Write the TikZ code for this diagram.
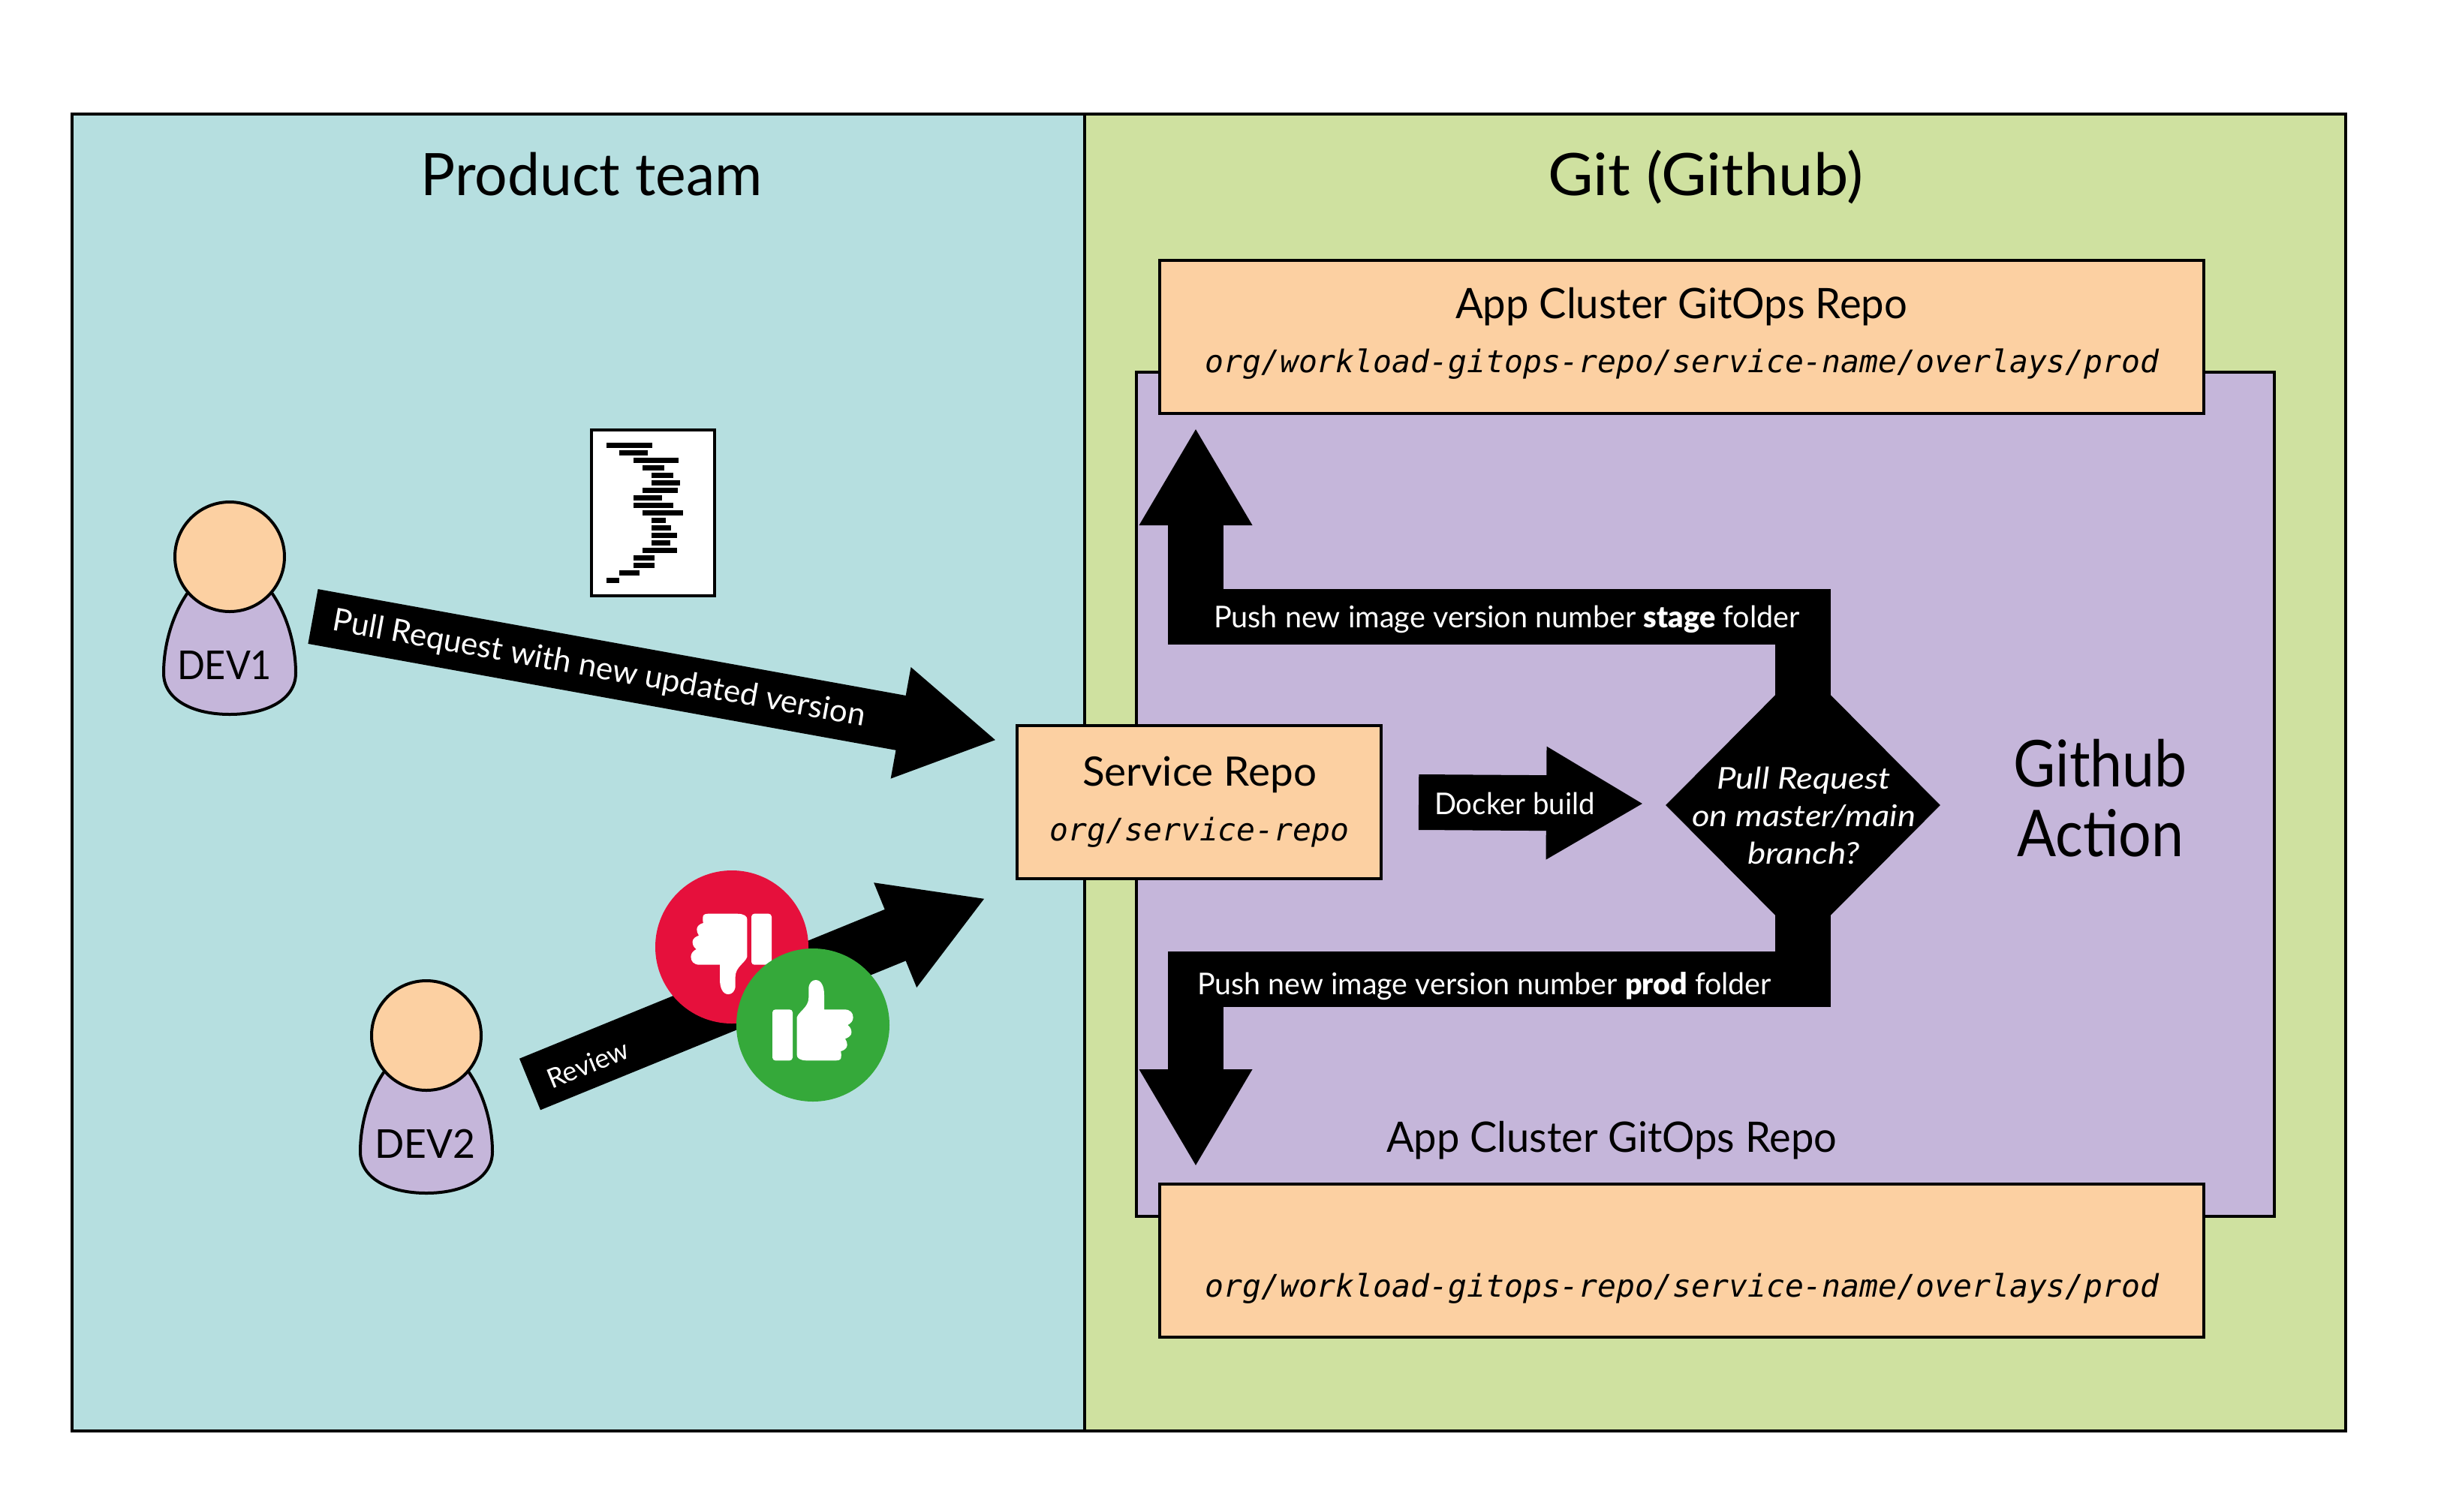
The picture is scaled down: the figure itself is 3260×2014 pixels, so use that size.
\documentclass[tikz,border=0pt]{standalone}
\usepackage{graphicx}
\usepackage{fontspec}
\setmainfont{Lato}
\setmonofont{DejaVu Sans Mono}
\newfontfamily\heavyfont{Lato Black}
\usetikzlibrary{arrows.meta,shapes.geometric}
\definecolor{panelblue}{HTML}{B6DFE0}
\definecolor{panelgreen}{HTML}{CFE1A0}
\definecolor{panelpurple}{HTML}{C5B6DA}
\definecolor{boxorange}{HTML}{FCD0A2}
\definecolor{votered}{HTML}{E6103C}
\definecolor{votegreen}{HTML}{35A93A}
% set text at a size (pt), then fit it horizontally to a width given in image pixels
\newcommand{\fit}[3]{\begingroup\fontsize{#2}{#2}\selectfont\setbox0=\hbox{#3}%
  \pgfmathsetmacro\fitr{(#1*0.5)/\wd0}\scalebox{\fitr}[1]{\box0}\endgroup}
\newcommand{\monotext}[1]{{\fontsize{20.7}{20.7}\selectfont\ttfamily\itshape #1}}
\newcommand{\thumbshape}{%
  \fill[white,rounded corners=2pt] (-54,-20.7) rectangle (-27,47.3);
  \fill[white] (-21.4,30) -- (-21.4,-10)
    .. controls (-18.9,-18.3) and (-5.7,-23.3) .. (-5.7,-36.7)
    -- (-5.7,-48.3)
    .. controls (-5.7,-56) and (-1,-60) .. (3.6,-60)
    .. controls (11,-60) and (15,-52) .. (15,-40)
    -- (15,-20.7) -- (41.8,-20.7)
    .. controls (50,-20.7) and (53.6,-16) .. (53.6,-10)
    .. controls (53.6,-5) and (50,-2) .. (46.4,0)
    .. controls (50,3) and (51.4,6) .. (51.4,10)
    .. controls (51.4,14) and (47,17) .. (42.9,18.3)
    .. controls (45,21) and (45.7,24) .. (45.7,26.7)
    .. controls (45.7,31) and (41,34) .. (37.1,35)
    .. controls (38,38) and (38,42) .. (37.1,45)
    .. controls (36,46.5) and (34,47.3) .. (31,47.3)
    -- (-8.2,47.3)
    .. controls (-17,47.3) and (-21.4,44) .. (-21.4,40) -- cycle;}
\newcommand{\personbody}{%
  \draw[line width=2pt,draw=black,fill=panelpurple] (-56,48)
    .. controls (-75,75) and (-88,115) .. (-88,155)
    .. controls (-88,190) and (-50,210) .. (0,210)
    .. controls (50,210) and (88,190) .. (88,155)
    .. controls (88,115) and (75,75) .. (56,48) -- cycle;}
\tikzset{
  panel/.style={draw=black,line width=2pt,inner sep=0pt},
  orangebox/.style={panel,fill=boxorange,minimum width=695.5pt,minimum height=102pt},
  blockarrow/.style={draw=black,line width=37pt,-{Triangle[length=65pt,width=70.5pt]}},
  lbl/.style={anchor=base,inner sep=0pt,outer sep=0pt,text=black},
  wlbl/.style={lbl,text=white},
  headnode/.style={circle,draw=black,fill=boxorange,line width=2pt,inner sep=0pt,minimum size=73pt},
  votecircle/.style={circle,inner sep=0pt,minimum size=102pt},
}
\begin{document}
\begin{tikzpicture}[x=0.5pt,y=-0.5pt]
\path[use as bounding box,fill=white] (0,0) rectangle (3260,2014);
% panels
\node[panel,fill=panelblue,minimum width=674.5pt,minimum height=877.5pt] (product) at (770.5,1029.5) {};
\node[panel,fill=panelgreen,minimum width=840pt,minimum height=877.5pt] (git) at (2285,1029.5) {};
\node[panel,fill=panelpurple,minimum width=758pt,minimum height=562.5pt] (action) at (2272,1058.5) {};
\node[orangebox] (toprepo) at (2240.5,449) {};
\node[orangebox] (bottomrepo) at (2240.5,1680) {};
\node[panel,fill=boxorange,minimum width=242.5pt,minimum height=102pt] (service) at (1597,1069) {};
% titles
\node[lbl] (producttitle) at (788,260) {\fit{455}{39}{Product team}};
\node[lbl] (gittitle) at (2272,260) {\fit{420}{39}{Git (Github)}};
\node[lbl] (actiontop) at (2798,1048) {\fit{231}{43}{Github}};
\node[lbl] (actionbot) at (2798,1141) {\fit{222}{43}{Action}};
% repo labels
\node[lbl] (toprepotitle) at (2240,424) {\fit{602}{28}{App Cluster GitOps Repo}};
\node[lbl] (toprepopath) at (2241,496) {\monotext{org/workload-gitops-repo/service-name/overlays/prod}};
\node[lbl] (bottomrepotitle) at (2147,1535) {\fit{600}{28}{App Cluster GitOps Repo}};
\node[lbl] (bottomrepopath) at (2241,1728) {\monotext{org/workload-gitops-repo/service-name/overlays/prod}};
\node[lbl] (servicetitle) at (1598,1047) {\fit{312}{27}{Service Repo}};
\node[lbl] (servicepath) at (1598,1120) {\monotext{org/service-repo}};
% decision and connectors
\node[diamond,fill=black,inner sep=0pt,minimum width=183pt,minimum height=184pt] (decision) at (2402,1073) {};
\coordinate (stagebend) at (1593,822);
\coordinate (stagetip) at (1593,570);
\coordinate (prodbend) at (1593,1304.5);
\coordinate (prodtip) at (1593,1555);
\coordinate (dockertail) at (1890,1069);
\coordinate (dockertip) at (2190,1071);
\draw[blockarrow] (decision.center) |- (stagebend) -- (stagetip);
\draw[blockarrow] (decision.center) |- (prodbend) -- (prodtip);
\draw[blockarrow] (dockertail) -- (dockertip);
\node[wlbl] (dockerlabel) at (2018,1085) {\fit{214}{20}{Docker build}};
\node[wlbl] (stagelabel) at (2007.5,836) {\fit{781}{20}{Push new image version number {\heavyfont stage} folder}};
\node[wlbl] (prodlabel) at (1977.5,1325) {\fit{765}{20}{Push new image version number {\heavyfont prod} folder}};
\node[wlbl] (decisionlineone) at (2403,1051) {\fit{232}{20}{\itshape Pull Request}};
\node[wlbl] (decisionlinetwo) at (2403,1101) {\fit{298}{20}{\itshape on master/main}};
\node[wlbl] (decisionlinethree) at (2403,1151) {\fit{150}{20}{\itshape branch?}};
% document icon
\node[panel,fill=white,minimum width=82pt,minimum height=110.5pt] (document) at (870,683.5) {};
\foreach \a/\b/\c in {323/508/221,374/490/251,432/612/281,467/555/311,503/590/341,503/618/371,467/610/401,432/547/431,432/590/461,467/631/490,503/561/520,503/583/550,503/607/580,503/578/610,467/607/640,432/517/670,432/517/700,374/455/730,323/374/760}
  \fill[black] ({700+\a/3},{520+(\c-10)/3}) rectangle ({700+\b/3},{520+(\c+10)/3});
% developers
\begin{scope}[shift={(306,742)}]\personbody\end{scope}
\node[headnode] (devonehead) at (306,742) {};
\node[lbl] (devonelabel) at (299,905) {\fit{126}{26.5}{DEV1}};
\begin{scope}[shift={(568,1380)}]\personbody\end{scope}
\node[headnode] (devtwohead) at (568,1380) {};
\node[lbl] (devtwolabel) at (566,1543) {\fit{134}{26.5}{DEV2}};
% pull request arrow
\coordinate (prtail) at (417,821.5);
\coordinate (prtip) at (1328,986.5);
\draw[blockarrow] (prtail) -- (prtip);
\node[text=white,inner sep=0pt,rotate=-10.26] (prlabel) at (798,892) {\fit{720}{21}{Pull Request with new updated version}};
% review arrow
\coordinate (reviewtail) at (706,1445);
\coordinate (reviewtip) at (1313,1197);
\draw[blockarrow] (reviewtail) -- (reviewtip);
\node[text=white,inner sep=0pt,rotate=22.2,font=\fontsize{18}{18}\selectfont] (reviewlabel) at (783,1418) {Review};
% votes
\node[votecircle,fill=votered] (downvote) at (975,1262) {};
\begin{scope}[shift={(974,1265)},rotate=180]\thumbshape\end{scope}
\node[votecircle,fill=votegreen] (upvote) at (1083,1366) {};
\begin{scope}[shift={(1083,1366)}]\thumbshape\end{scope}
\end{tikzpicture}
\end{document}
